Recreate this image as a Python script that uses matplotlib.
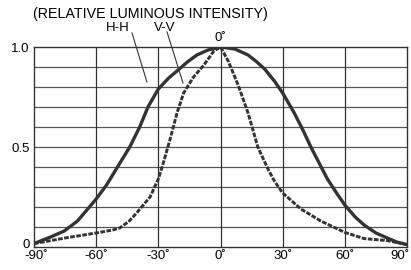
import matplotlib
matplotlib.use("Agg")
import matplotlib.pyplot as plt
from matplotlib.transforms import ScaledTranslation

plt.rcParams['font.family'] = ['Liberation Sans', 'DejaVu Sans']

# H-H curve (solid)
hh_angle = [-90, -82, -75.4, -69, -60, -55, -50.3, -43.8, -39, -35, -30, -25, -21, -16, -11.4, -6,
            0, 6.9, 13.3, 17, 21.3, 26, 30, 35.6, 40, 43.6, 51.6, 56, 60, 65, 69.3, 75, 80.5, 85, 90]
hh_value = [0.017, 0.05, 0.08, 0.13, 0.24, 0.31, 0.39, 0.5, 0.6, 0.7, 0.79, 0.845, 0.88, 0.925, 0.96, 0.985,
            1.0, 0.99, 0.96, 0.93, 0.89, 0.83, 0.77, 0.67, 0.58, 0.5, 0.34, 0.27, 0.21, 0.15, 0.11, 0.07, 0.045, 0.025, 0.012]

# V-V curve (dashed)
vv_angle = [-90, -75, -60, -52, -48.6, -44, -40.5, -34, -30, -27.6, -24.3, -21, -17.8, -13, -8, -3.2,
            0, 3.7, 8.5, 13.3, 18, 22.9, 26, 30, 38.8, 48.4, 60, 69.3, 80.5, 90]
vv_value = [0.017, 0.045, 0.07, 0.085, 0.095, 0.13, 0.17, 0.25, 0.34, 0.42, 0.54, 0.67, 0.77, 0.85, 0.91, 0.98,
            1.0, 0.93, 0.81, 0.67, 0.5, 0.39, 0.33, 0.27, 0.19, 0.13, 0.073, 0.042, 0.032, 0.012]

x_ticks = [-90, -60, -30, 0, 30, 60, 90]
x_labels = ["-90˚", "-60˚", "-30˚", "0˚", "30˚", "60˚", "90˚"]
y_ticks = [0, 0.5, 1.0]
y_labels = ["0", "0.5", "1.0"]

fig = plt.figure(figsize=(4.11, 2.70), dpi=100)
ax = fig.add_axes([34 / 411, 23 / 270, 373 / 411, 200 / 270])

# grid
for v in range(1, 10):
    ax.axhline(v / 10, color='#555555', lw=0.9, zorder=1)
for a in [-60, -30, 0, 30, 60]:
    ax.axvline(a, color='#333333', lw=0.9, zorder=1)

ax.plot(hh_angle, hh_value, '-', color='#333333', lw=2.4, zorder=3, solid_capstyle='round')
ax.plot(vv_angle, vv_value, '--', color='#333333', lw=2.1, dashes=(1.6, 0.5), zorder=3)

ax.set_xlim(-90, 90)
ax.set_ylim(0, 1.0)
ax.set_xticks(x_ticks)
ax.set_xticklabels(x_labels, fontsize=9.5)
ax.set_yticks(y_ticks)
ax.set_yticklabels(y_labels, fontsize=9.5)
ax.tick_params(length=0, pad=2)
ax.tick_params(axis='y', pad=3)

# nudge the end labels like the original
xl = ax.get_xticklabels()
xl[0].set_transform(xl[0].get_transform() + ScaledTranslation(2 / 100, 0, fig.dpi_scale_trans))
xl[-1].set_transform(xl[-1].get_transform() + ScaledTranslation(-7 / 100, 0, fig.dpi_scale_trans))
yl = ax.get_yticklabels()
yl[0].set_transform(yl[0].get_transform() + ScaledTranslation(0, 4 / 100, fig.dpi_scale_trans))

for s in ax.spines.values():
    s.set_color('#333333')
    s.set_linewidth(1.0)

# annotations
ax.text(-90.5, 1.165, "(RELATIVE LUMINOUS INTENSITY)", fontsize=10.3, ha='left', va='center',
        clip_on=False)
ax.text(0, 1.045, "0˚", fontsize=9.5, ha='center', va='center', clip_on=False)
ax.text(-49.5, 1.095, "H-H", fontsize=9.5, ha='center', va='center', clip_on=False)
ax.text(-26.8, 1.095, "V-V", fontsize=9.5, ha='center', va='center', clip_on=False)
ax.plot([-42.7, -35.5], [1.07, 0.825], color='#333333', lw=0.8, clip_on=False, zorder=4)
ax.plot([-25.8, -18.1], [1.075, 0.82], color='#333333', lw=0.8, clip_on=False, zorder=4)

fig.savefig("out.png", dpi=100)
